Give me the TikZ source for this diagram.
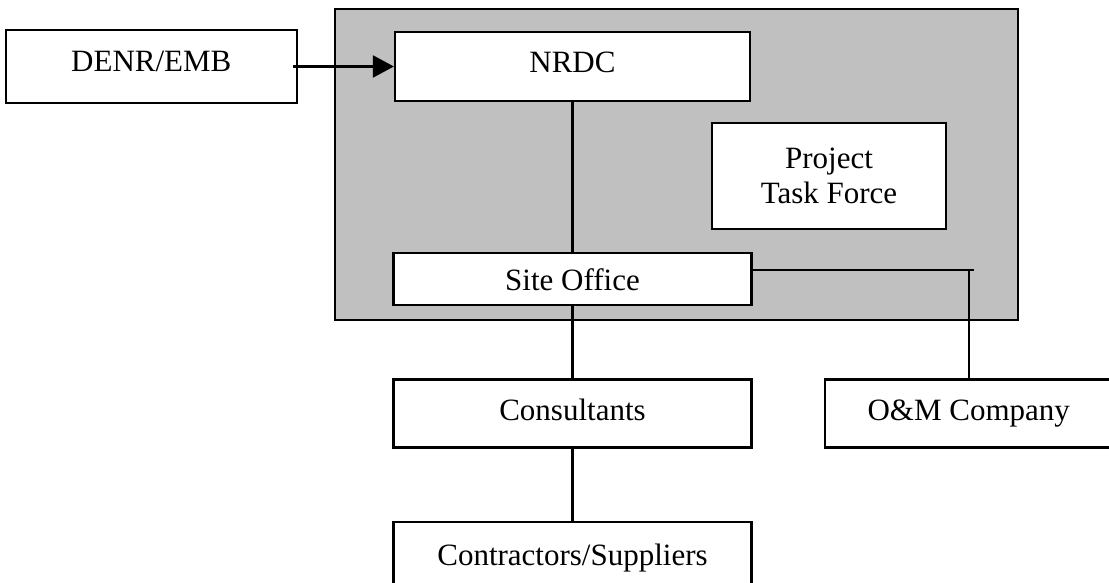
\documentclass[tikz,border=0pt]{standalone}
\usepackage{fontspec}
\setmainfont{Liberation Serif}
\usepackage{tikz}
\usetikzlibrary{arrows.meta,positioning}

\definecolor{panelgray}{HTML}{C0C0C0}

\begin{document}
\begin{tikzpicture}[x=0.5pt, y=-0.5pt, >={Triangle[length=10.5pt,width=11pt]}, line width=1.1pt]

    \tikzstyle{org} = [rectangle, draw=black, fill=white, text centered, font=\fontsize{15.5}{17.5}\selectfont]
    \tikzstyle{oneline} = [org, text height=11pt, text depth=4pt]

    \useasboundingbox (0,0) rectangle (1109,583);

    % shaded block round the project units
    \draw[fill=panelgray] (335,9) rectangle (1018,320);

    \node (nrdc)   [oneline, text depth=5pt, minimum width=177.5pt, minimum height=34.5pt] at (572.5,66.5) {NRDC};
    \node (denr)   [oneline, text depth=6pt, minimum width=145.5pt, minimum height=36.5pt, left=48pt of nrdc] {DENR/EMB};
    \node (site)   [oneline, text depth=0pt, minimum width=179pt, minimum height=26pt, below=75pt of nrdc] {Site Office};
    \node (ptf)    [org, align=center, minimum width=117pt, minimum height=53pt] at (829,176) {Project\\Task Force};

    \node (cons)   [oneline, minimum width=179pt, minimum height=34pt, below=36pt of site] {Consultants};
    \node (contr)  [oneline, minimum width=179pt, minimum height=37pt, below=36pt of cons] {Contractors/Suppliers};
    \node (om)     [oneline, minimum width=144pt, minimum height=34pt, right=35.5pt of cons] {O\&M Company};

    \draw[->]  ([xshift=-2.5pt]denr.east |- nrdc.west) -- (nrdc.west);
    \draw      (nrdc) -- (site);
    \draw      (site) -- (cons);
    \draw      (cons) -- (contr);
    \draw      ([yshift=4.5pt]site.east) coordinate (tap) -- ([xshift=2.5pt]tap -| om.north);
    \draw      (tap -| om.north) -- ([yshift=-1pt]om.north);
\end{tikzpicture}
\end{document}
